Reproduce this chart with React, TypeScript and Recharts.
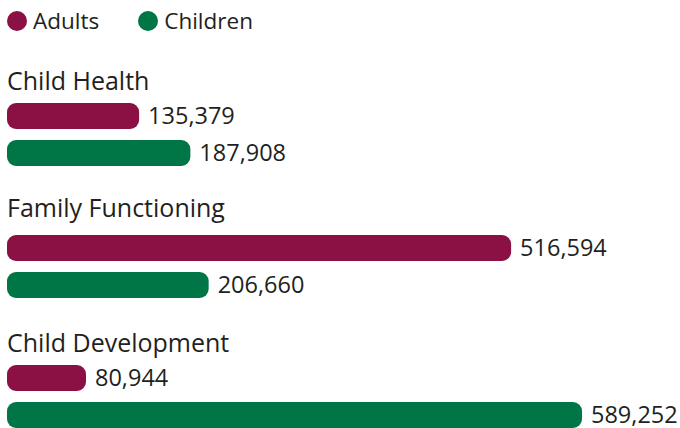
import { BarChart, Bar, XAxis, YAxis, Cell, LabelList } from 'recharts';

const categories = ['Child Health', 'Family Functioning', 'Child Development'];
const seriesNames = ['Adults', 'Children'];
const adults = [135379, 516594, 80944];
const children = [187908, 206660, 589252];

const COLORS = ['#8b1043', '#007647'];
const FONT = '"Open Sans", sans-serif';
const TEXT = '#231f20';

// where each group sits (title box top, chart top)
const GROUP_TOPS = [97, 229, 359];
const TITLE_TOPS = [66, 193, 328];

const fmt = (v: number) => v.toLocaleString('en-US');

function Group({ index }: { index: number }) {
  const data = seriesNames.map((name, i) => ({
    name,
    value: i === 0 ? adults[index] : children[index],
  }));
  return (
    <>
      <div
        style={{
          position: 'absolute',
          left: 7,
          top: TITLE_TOPS[index],
          fontSize: 25,
          lineHeight: '28px',
          color: TEXT,
          whiteSpace: 'nowrap',
        }}
      >
        {categories[index]}
      </div>
      <div style={{ position: 'absolute', left: 0, top: GROUP_TOPS[index] }}>
        <BarChart
          width={680}
          height={74}
          layout="vertical"
          data={data}
          margin={{ top: 0, right: 87.5, bottom: 0, left: 7 }}
          style={{ overflow: 'visible' }}
        >
          <XAxis type="number" domain={[0, 600000]} hide />
          <YAxis type="category" dataKey="name" hide />
          <Bar dataKey="value" barSize={26} radius={9} isAnimationActive={false}>
            {data.map((d, i) => (
              <Cell key={d.name} fill={COLORS[i]} />
            ))}
            <LabelList
              dataKey="value"
              position="right"
              offset={9}
              formatter={(v: any) => fmt(Number(v))}
              style={{ fill: TEXT, fontSize: 23.5, fontFamily: FONT }}
            />
          </Bar>
        </BarChart>
      </div>
    </>
  );
}

export default function App() {
  return (
    <div
      style={{
        position: 'absolute',
        left: 0,
        top: 0,
        width: 680,
        height: 428,
        background: '#fff',
        fontFamily: FONT,
        overflow: 'hidden',
      }}
    >
      <div style={{ position: 'absolute', left: 7, top: 7, display: 'flex', alignItems: 'center' }}>
        {seriesNames.map((name, i) => (
          <div key={name} style={{ display: 'flex', alignItems: 'center', marginRight: i === 0 ? 39 : 0 }}>
            <span
              style={{
                display: 'inline-block',
                width: 20,
                height: 20,
                borderRadius: '50%',
                background: COLORS[i],
                marginRight: 6,
              }}
            />
            <span style={{ fontSize: 22.5, lineHeight: '28px', color: TEXT }}>{name}</span>
          </div>
        ))}
      </div>
      {categories.map((c, i) => (
        <Group key={c} index={i} />
      ))}
    </div>
  );
}
